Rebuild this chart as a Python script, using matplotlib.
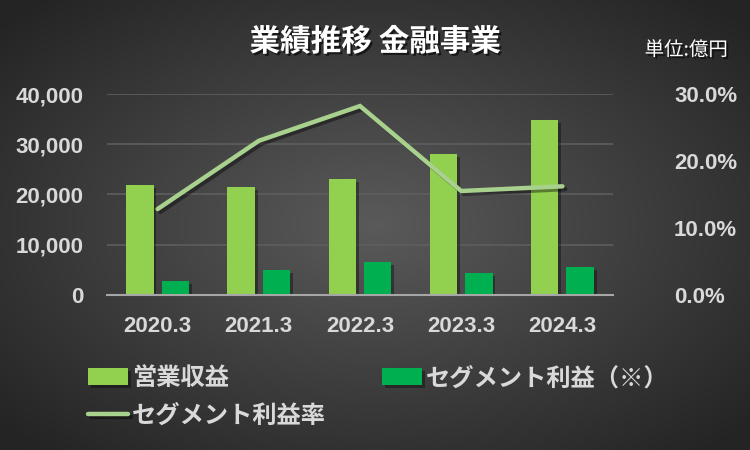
"""Business results chart for the finance segment (bars + margin line)."""

import matplotlib
matplotlib.use('Agg')
import matplotlib.pyplot as plt
import matplotlib.patheffects as pe
from matplotlib.ticker import FuncFormatter
import numpy as np

# data
years = ['2020.3', '2021.3', '2022.3', '2023.3', '2024.3']
revenue = [21850, 21450, 23050, 28030, 34800]        # 営業収益 (億円)
segment_profit = [2730, 4920, 6510, 4320, 5520]      # セグメント利益 (億円)
profit_rate = [12.8, 23.0, 28.2, 15.5, 16.2]         # セグメント利益率 (%)

left_ticks = [0, 10000, 20000, 30000, 40000]
right_ticks = [0, 10, 20, 30]

LIGHT = '#92D050'
DARK = '#00B050'
LINE = '#A9D18E'
TXT = '#D9D9D9'

plt.rcParams['font.family'] = ['Noto Sans CJK JP', 'DejaVu Sans']

fig = plt.figure(figsize=(7.5, 4.5), dpi=100)

# radial gradient background
bg = fig.add_axes([0, 0, 1, 1], zorder=-10)
gx, gy = np.meshgrid(np.linspace(-1, 1, 300), np.linspace(-1, 1, 180))
r = np.clip(np.sqrt(gx ** 2 + gy ** 2) / 1.35, 0, 1)
c_in, c_out = np.array([0x5a, 0x5a, 0x5a]) / 255, np.array([0x24, 0x24, 0x24]) / 255
img = c_in[None, None, :] * (1 - r[..., None]) + c_out[None, None, :] * r[..., None]
bg.imshow(img, aspect='auto', extent=[0, 1, 0, 1], interpolation='bicubic')
bg.axis('off')

ax = fig.add_axes([107 / 750, 1 - 294.7 / 450, 506 / 750, 200.7 / 450])
ax.patch.set_alpha(0)
ax2 = ax.twinx()
ax2.patch.set_alpha(0)

x = np.arange(len(years))
w = 0.27
bar_shadow = [pe.withSimplePatchShadow(offset=(2, -2), shadow_rgbFace='black', alpha=0.35)]
b1 = ax.bar(x - 0.175, revenue, width=w, color=LIGHT, zorder=3, label='営業収益')
b2 = ax.bar(x + 0.175, segment_profit, width=w, color=DARK, zorder=3, label='セグメント利益（※）')
for p in list(b1) + list(b2):
    p.set_path_effects(bar_shadow)

ln, = ax2.plot(x, profit_rate, color=LINE, linewidth=3.2, solid_capstyle='round',
               solid_joinstyle='miter', zorder=4, label='セグメント利益率',
               path_effects=[pe.SimpleLineShadow(offset=(2, -2), alpha=0.4), pe.Normal()])

ax.set_xlim(-0.5, len(years) - 0.5)
ax.set_ylim(0, 40000)
ax2.set_ylim(0, 30)
ax.set_yticks(left_ticks)
ax2.set_yticks(right_ticks)
ax.yaxis.set_major_formatter(FuncFormatter(lambda v, p: f'{int(v):,}'))
ax2.yaxis.set_major_formatter(FuncFormatter(lambda v, p: f'{v:.1f}%'))
ax.set_xticks(x)
ax.set_xticklabels(years)

ax.yaxis.grid(True, color='#5E5E5E', linewidth=1.2, zorder=0)
ax.set_axisbelow(True)
for a in (ax, ax2):
    for s in a.spines.values():
        s.set_visible(False)
ax.spines['bottom'].set_visible(True)
ax.spines['bottom'].set_color('#A6A6A6')
ax.spines['bottom'].set_linewidth(1.5)
ax.spines['bottom'].set_zorder(5)

ax.tick_params(axis='both', length=0, colors=TXT)
ax.tick_params(axis='y', pad=17)
ax.tick_params(axis='x', pad=15)
ax2.tick_params(axis='y', length=0, colors=TXT, pad=44)
for lab in ax.get_xticklabels() + ax.get_yticklabels() + ax2.get_yticklabels():
    lab.set_fontfamily(['Liberation Sans', 'DejaVu Sans'])
    lab.set_fontweight('bold')
    lab.set_fontsize(16)
    lab.set_color(TXT)

txt_shadow = [pe.withSimplePatchShadow(offset=(1.5, -1.5), shadow_rgbFace='black', alpha=0.6)]
fig.text(0.5, 1 - 42 / 450, '業績推移 金融事業', ha='center', va='center', fontsize=22,
         fontweight='bold', color='white', path_effects=txt_shadow)
fig.text(728 / 750, 1 - 50 / 450, '単位:億円', ha='right', va='center', fontsize=14,
         color='white', path_effects=txt_shadow)

leg = fig.legend([b1, ln, b2], ['営業収益', 'セグメント利益率', 'セグメント利益（※）'],
                 ncol=2, loc='upper left', bbox_to_anchor=(76 / 750, 1 - 354 / 450),
                 frameon=False, fontsize=17.5, handlelength=1.65, handleheight=0.7,
                 handletextpad=0.15, columnspacing=2.3, labelspacing=0.55, borderpad=0)
for t in leg.get_texts():
    t.set_color(TXT)
    t.set_fontweight('bold')

fig.savefig('out.png', dpi=100, facecolor='#2a2a2a')
